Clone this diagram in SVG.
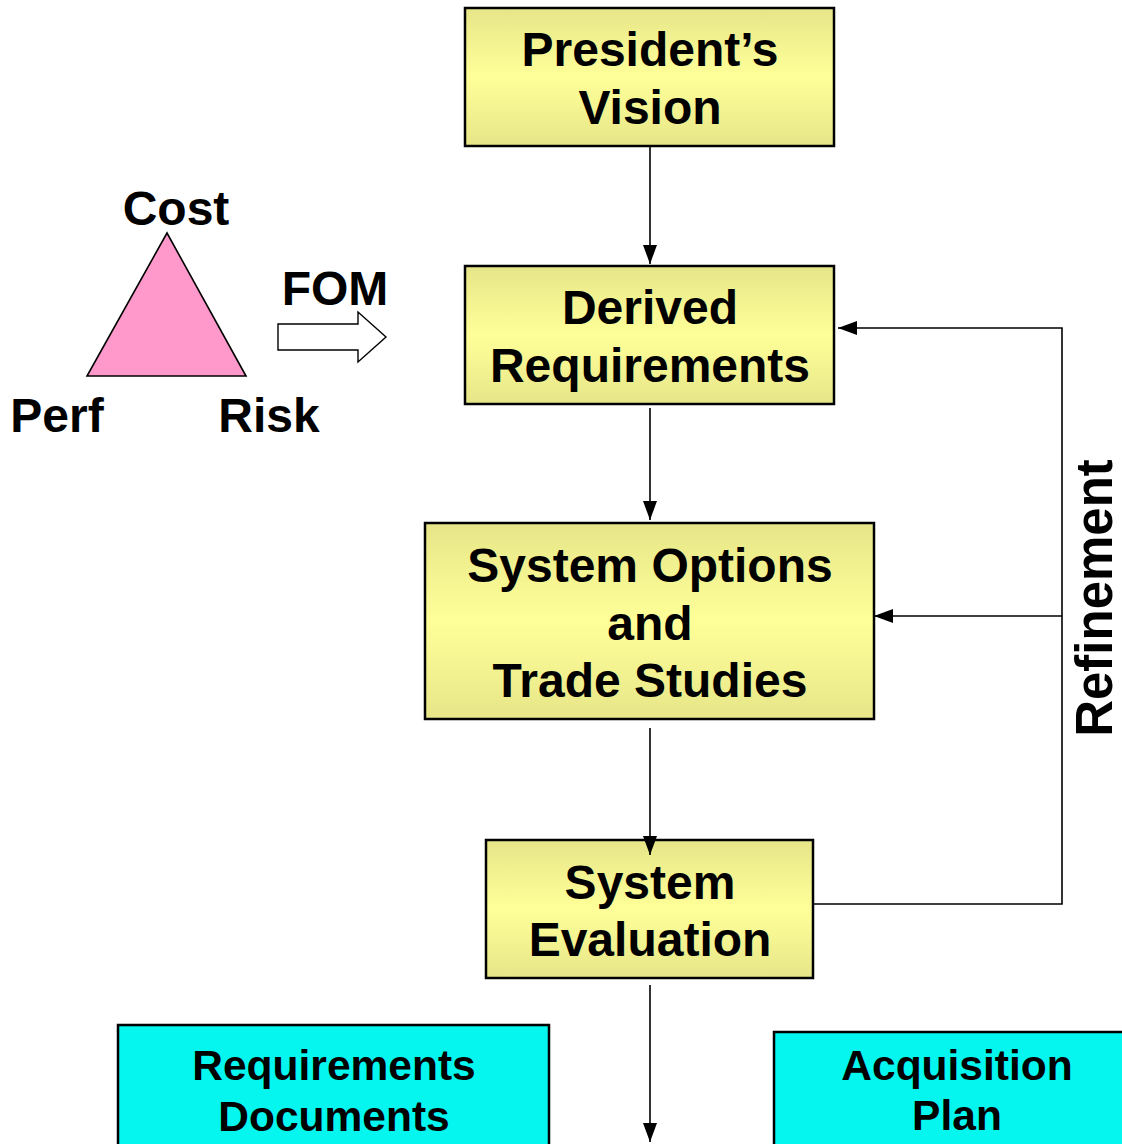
<svg xmlns="http://www.w3.org/2000/svg" width="1122" height="1144" viewBox="0 0 1122 1144">
<style>
text{font-family:"Liberation Sans",Arial,sans-serif;font-weight:bold;fill:#000;text-anchor:middle}
.big{font-size:48px}
.cy{font-size:42.5px}
.box{fill:url(#yg);stroke:#000;stroke-width:2.5}
.cyan{fill:#04F6EF;stroke:#000;stroke-width:2.5}
.ln{fill:none;stroke:#000;stroke-width:1.6}
</style>
<defs>
<linearGradient id="yg" x1="0" y1="0" x2="0" y2="1">
<stop offset="0" stop-color="#E6E689"/>
<stop offset="0.5" stop-color="#FFFF99"/>
<stop offset="1" stop-color="#E6E689"/>
</linearGradient>
<marker id="ah" markerWidth="19" markerHeight="14" refX="19" refY="7" orient="auto" markerUnits="userSpaceOnUse" viewBox="0 0 19 14">
<path d="M0,0 L19,7 L0,14 Z" fill="#000"/>
</marker>
</defs>
<g id="n-vision">
<rect class="box" x="465" y="8" width="369" height="138"/>
<text class="big" x="650" y="66">President’s</text>
<text class="big" x="650" y="124">Vision</text>
</g>
<g id="n-derived">
<rect class="box" x="465" y="266" width="369" height="138"/>
<text class="big" x="650" y="324">Derived</text>
<text class="big" x="650" y="382">Requirements</text>
</g>
<g id="n-options">
<rect class="box" x="425" y="523" width="449" height="196"/>
<text class="big" x="650" y="582">System Options</text>
<text class="big" x="650" y="640">and</text>
<text class="big" x="650" y="697">Trade Studies</text>
</g>
<g id="n-eval">
<rect class="box" x="486" y="840" width="327" height="138"/>
<text class="big" x="650" y="899">System</text>
<text class="big" x="650" y="956">Evaluation</text>
</g>
<g id="n-reqdocs">
<rect class="cyan" x="118" y="1025" width="431" height="130"/>
<text class="cy" x="334" y="1080">Requirements</text>
<text class="cy" x="334" y="1131">Documents</text>
</g>
<g id="n-acq">
<rect class="cyan" x="774" y="1032" width="360" height="130"/>
<text class="cy" x="957" y="1080">Acquisition</text>
<text class="cy" x="957" y="1130">Plan</text>
</g>
<g id="n-fom">
<polygon points="167,233 87,376 246,376" fill="#FF99CC" stroke="#000" stroke-width="1.6"/>
<text class="big" x="176" y="225">Cost</text>
<text class="big" x="57" y="432">Perf</text>
<text class="big" x="269" y="432">Risk</text>
<text class="big" x="335" y="305">FOM</text>
<polygon points="278,324 358,324 358,312 386,337 358,362 358,350 278,350" fill="#fff" stroke="#000" stroke-width="1.4"/>
</g>
<g id="refinement-label">
<text x="0" y="0" font-size="51" transform="translate(1112,598) rotate(-90)">Refinement</text>
</g>
<g id="connectors">
<line class="ln" x1="650" y1="146" x2="650" y2="264" marker-end="url(#ah)"/>
<line class="ln" x1="650" y1="408" x2="650" y2="520" marker-end="url(#ah)"/>
<line class="ln" x1="650" y1="728" x2="650" y2="855" marker-end="url(#ah)"/>
<line class="ln" x1="650" y1="985" x2="650" y2="1142" marker-end="url(#ah)"/>
<polyline class="ln" points="813,904 1062,904 1062,328 838,328" marker-end="url(#ah)"/>
<line class="ln" x1="1062" y1="616" x2="874" y2="616" marker-end="url(#ah)"/>
</g>
</svg>
